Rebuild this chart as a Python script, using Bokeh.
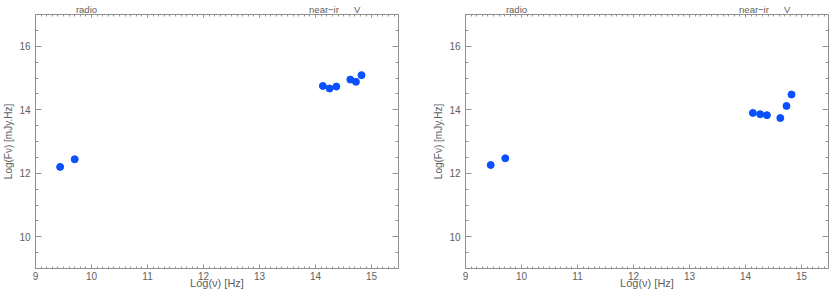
from bokeh.plotting import figure
from bokeh.layouts import row
from bokeh.models import (Range1d, LinearAxis, SingleIntervalTicker, FixedTicker, CustomJSTickFormatter)
from bokeh.embed import file_html
from bokeh.resources import INLINE

# data
left_lognu = [9.44, 9.70, 14.13, 14.25, 14.37, 14.62, 14.72, 14.82]
left_logf = [12.20, 12.44, 14.75, 14.67, 14.73, 14.95, 14.88, 15.09]
right_lognu = [9.45, 9.71, 14.13, 14.26, 14.38, 14.62, 14.73, 14.82]
right_logf = [12.26, 12.47, 13.90, 13.86, 13.83, 13.74, 14.12, 14.48]
band_names = ["radio", "near\u2212ir", "V"]
band_lognu = [9.91, 14.15, 14.74]

FONT = "Liberation Sans"
TXT = "#606060"
AX = "#909090"
DOT = "#0a50ff"
H = 291


def style_axis(ax, major_in, minor_in):
    ax.axis_line_color = AX
    ax.major_tick_line_color = AX
    ax.minor_tick_line_color = AX
    ax.major_tick_in = major_in
    ax.major_tick_out = 0
    ax.minor_tick_in = minor_in
    ax.minor_tick_out = 0
    ax.major_label_text_font = FONT
    ax.major_label_text_font_size = "10px"
    ax.major_label_text_color = TXT
    ax.axis_label_text_font = FONT
    ax.axis_label_text_font_size = "11px"
    ax.axis_label_text_font_style = "normal"
    ax.axis_label_text_color = TXT


def make_panel(xs, ys, width, bl, br):
    p = figure(width=width, height=H, output_backend="svg", toolbar_location=None,
               x_range=Range1d(9, 15.48), y_range=Range1d(9, 17),
               min_border_left=bl, min_border_right=br, min_border_top=10, min_border_bottom=20)
    p.grid.visible = False
    p.outline_line_color = None
    p.background_fill_color = "white"
    p.border_fill_color = "white"

    p.xaxis.ticker = SingleIntervalTicker(interval=1, num_minor_ticks=10)
    p.yaxis.ticker = SingleIntervalTicker(interval=2, num_minor_ticks=4)
    p.xaxis.axis_label = "Log(\u03bd) [Hz]"
    p.yaxis.axis_label = "Log(F\u03bd) [mJy.Hz]"
    for ax in p.xaxis:
        style_axis(ax, 4, 2)
    for ax in p.yaxis:
        style_axis(ax, 6, 3)
    p.xaxis.major_label_standoff = 3
    p.xaxis.axis_label_standoff = -6
    p.yaxis.major_label_standoff = 5
    p.yaxis.axis_label_standoff = 2
    p.yaxis.axis_label_text_font_size = "10px"

    blank = CustomJSTickFormatter(code="return ''")
    top = LinearAxis(ticker=SingleIntervalTicker(interval=1, num_minor_ticks=10), formatter=blank)
    style_axis(top, 3, 2)
    top.major_label_standoff = 0
    p.add_layout(top, "above")

    bands = LinearAxis(ticker=FixedTicker(ticks=band_lognu, minor_ticks=[]),
                       major_label_overrides={v: n for v, n in zip(band_lognu, band_names)})
    style_axis(bands, 0, 0)
    bands.axis_line_color = None
    bands.major_tick_line_color = None
    bands.minor_tick_line_color = None
    bands.major_label_text_font_size = "9.5px"
    bands.major_label_standoff = 0
    p.add_layout(bands, "above")

    right = LinearAxis(ticker=SingleIntervalTicker(interval=2, num_minor_ticks=4), formatter=blank)
    style_axis(right, 6, 3)
    right.major_label_standoff = 0
    p.add_layout(right, "right")

    p.scatter(xs, ys, size=7, fill_color=DOT, line_color=DOT)
    return p


p1 = make_panel(left_lognu, left_logf, 430, 30, 32)
p2 = make_panel(right_lognu, right_logf, 399, 34, 1)
p = row(p1, p2)

open("out.html", "w").write(file_html(p, INLINE))
